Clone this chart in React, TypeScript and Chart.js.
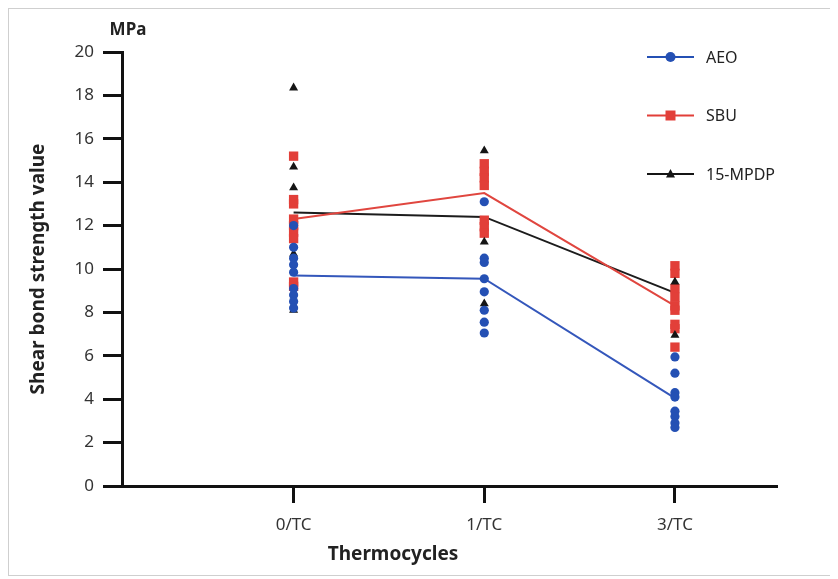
import React, { useEffect, useRef } from 'react';
import { Chart, registerables } from 'chart.js';

Chart.register(...registerables);

const categories = ['0/TC', '1/TC', '3/TC'];
const seriesNames = ['AEO', 'SBU', '15-MPDP'];
const seriesColors = ['#2450b4', '#e23f39', '#151515'];

// individual specimen values per thermocycle group
const aeoValues = [
  [12.0, 11.0, 10.5, 10.2, 9.85, 9.1, 8.8, 8.5, 8.2],
  [13.1, 10.5, 10.3, 9.55, 8.95, 8.1, 7.55, 7.05],
  [5.95, 5.2, 4.3, 4.1, 3.45, 3.2, 2.9, 2.7],
];
const sbuValues = [
  [15.2, 13.2, 13.0, 12.3, 12.0, 11.7, 11.4, 9.4, 9.2],
  [14.85, 14.5, 14.2, 13.85, 12.25, 11.95, 11.65],
  [10.15, 9.8, 9.1, 8.7, 8.3, 8.1, 7.45, 7.25, 6.4],
];
const mpdpValues = [
  [18.35, 14.7, 13.75, 10.7, 8.1],
  [15.45, 11.25, 8.4],
  [9.4, 6.95],
];

// mean values (connected lines)
const aeoMeans = [9.7, 9.55, 4.05];
const sbuMeans = [12.3, 13.5, 8.3];
const mpdpMeans = [12.6, 12.4, 8.9];

const yAxisTitle = 'Shear bond strength value';
const xAxisTitle = 'Thermocycles';
const unitLabel = 'MPa';

const FONT = '"Noto Sans", sans-serif';

function toPoints(groups: number[][]) {
  return groups.flatMap((vals, i) => vals.map((v) => ({ x: i + 1, y: v })));
}
function toLine(means: number[]) {
  return means.map((v, i) => ({ x: i + 1, y: v }));
}

const markerStyles = ['circle', 'rect', 'triangle'];

function drawMarker(ctx: CanvasRenderingContext2D, style: string, x: number, y: number, color: string) {
  ctx.fillStyle = color;
  ctx.beginPath();
  if (style === 'circle') {
    ctx.arc(x, y, 5, 0, Math.PI * 2);
  } else if (style === 'rect') {
    ctx.rect(x - 5, y - 5, 10, 10);
  } else {
    ctx.moveTo(x, y - 5);
    ctx.lineTo(x + 4.5, y + 3.5);
    ctx.lineTo(x - 4.5, y + 3.5);
    ctx.closePath();
  }
  ctx.fill();
}

const extrasPlugin = {
  id: 'extras',
  afterDraw(chart: any) {
    const ctx: CanvasRenderingContext2D = chart.ctx;
    ctx.save();
    ctx.fillStyle = '#222';
    ctx.textAlign = 'center';
    ctx.textBaseline = 'middle';
    ctx.font = `bold 17px ${FONT}`;
    ctx.fillText(unitLabel, 119, 21);
    ctx.font = `bold 19px ${FONT}`;
    ctx.fillText(xAxisTitle, 384, 546);

    // legend
    seriesNames.forEach((name, i) => {
      const y = 48 + i * 58.5;
      ctx.strokeStyle = seriesColors[i];
      ctx.lineWidth = 2;
      ctx.beginPath();
      ctx.moveTo(638, y);
      ctx.lineTo(685, y);
      ctx.stroke();
      drawMarker(ctx, markerStyles[i], 661.5, y, seriesColors[i]);
      ctx.fillStyle = '#222';
      ctx.font = `16px ${FONT}`;
      ctx.textAlign = 'left';
      ctx.fillText(name, 697, y + 1);
    });
    ctx.restore();
  },
};

export default function App() {
  const canvasRef = useRef<HTMLCanvasElement | null>(null);

  useEffect(() => {
    if (!canvasRef.current) return;
    const pointDs = (label: string, groups: number[][], color: string, style: string, radius: number, order: number) => ({
      type: 'scatter' as const,
      label,
      data: toPoints(groups),
      backgroundColor: color,
      borderColor: color,
      borderWidth: 0,
      pointStyle: style,
      pointRadius: radius,
      pointHoverRadius: radius,
      showLine: false,
      order,
    });
    const lineDs = (label: string, means: number[], color: string, order: number) => ({
      type: 'scatter' as const,
      label,
      data: toLine(means),
      borderColor: color,
      backgroundColor: color,
      borderWidth: 2,
      pointRadius: 0,
      showLine: true,
      order,
    });

    const chart = new Chart(canvasRef.current, {
      type: 'scatter',
      data: {
        datasets: [
          pointDs('AEO', aeoValues, seriesColors[0], 'circle', 4.6, 0),
          pointDs('15-MPDP', mpdpValues, seriesColors[2], 'triangle', 5.2, 1),
          pointDs('SBU', sbuValues, seriesColors[1], 'rect', 6.6, 2),
          lineDs('AEO mean', aeoMeans, '#3457bb', 3),
          lineDs('SBU mean', sbuMeans, '#e0463f', 4),
          lineDs('15-MPDP mean', mpdpMeans, '#1c1c1c', 5),
        ] as any,
      },
      options: {
        animation: false,
        responsive: false,
        maintainAspectRatio: false,
        layout: { padding: { top: 43, right: 55, left: 0, bottom: 0 } },
        plugins: {
          legend: { display: false },
          tooltip: { enabled: false },
        },
        scales: {
          x: {
            type: 'linear',
            min: 0.1,
            max: 3.53,
            afterFit: (scale: any) => {
              scale.height = 89;
            },
            afterBuildTicks: (scale: any) => {
              scale.ticks = categories.map((_, i) => ({ value: i + 1 }));
            },
            ticks: {
              callback: (v: any) => categories[Number(v) - 1] ?? '',
              font: { family: FONT, size: 17 },
              color: '#333',
              padding: 12,
              maxRotation: 0,
              autoSkip: false,
            },
            grid: {
              display: true,
              drawOnChartArea: false,
              drawTicks: true,
              tickLength: 17,
              lineWidth: 3,
              color: '#111',
            },
            border: { display: true, width: 3, color: '#111' },
          },
          y: {
            type: 'linear',
            min: 0,
            max: 20,
            afterFit: (scale: any) => {
              scale.width = 113;
            },
            ticks: {
              stepSize: 2,
              font: { family: FONT, size: 17 },
              color: '#333',
              padding: 9,
            },
            grid: {
              display: true,
              drawOnChartArea: false,
              drawTicks: true,
              tickLength: 19,
              lineWidth: 3,
              color: '#111',
            },
            border: { display: true, width: 3, color: '#111' },
            title: {
              display: true,
              text: yAxisTitle,
              font: { family: FONT, size: 19, weight: 'bold' },
              color: '#222',
              padding: { top: 18, bottom: 0 },
            },
          },
        },
      },
      plugins: [extrasPlugin],
    });
    return () => chart.destroy();
  }, []);

  return (
    <div style={{ width: 822, height: 566, border: '1px solid #cfcfcf', background: '#fff' }}>
      <canvas ref={canvasRef} width={822} height={566} style={{ display: 'block' }} />
    </div>
  );
}
